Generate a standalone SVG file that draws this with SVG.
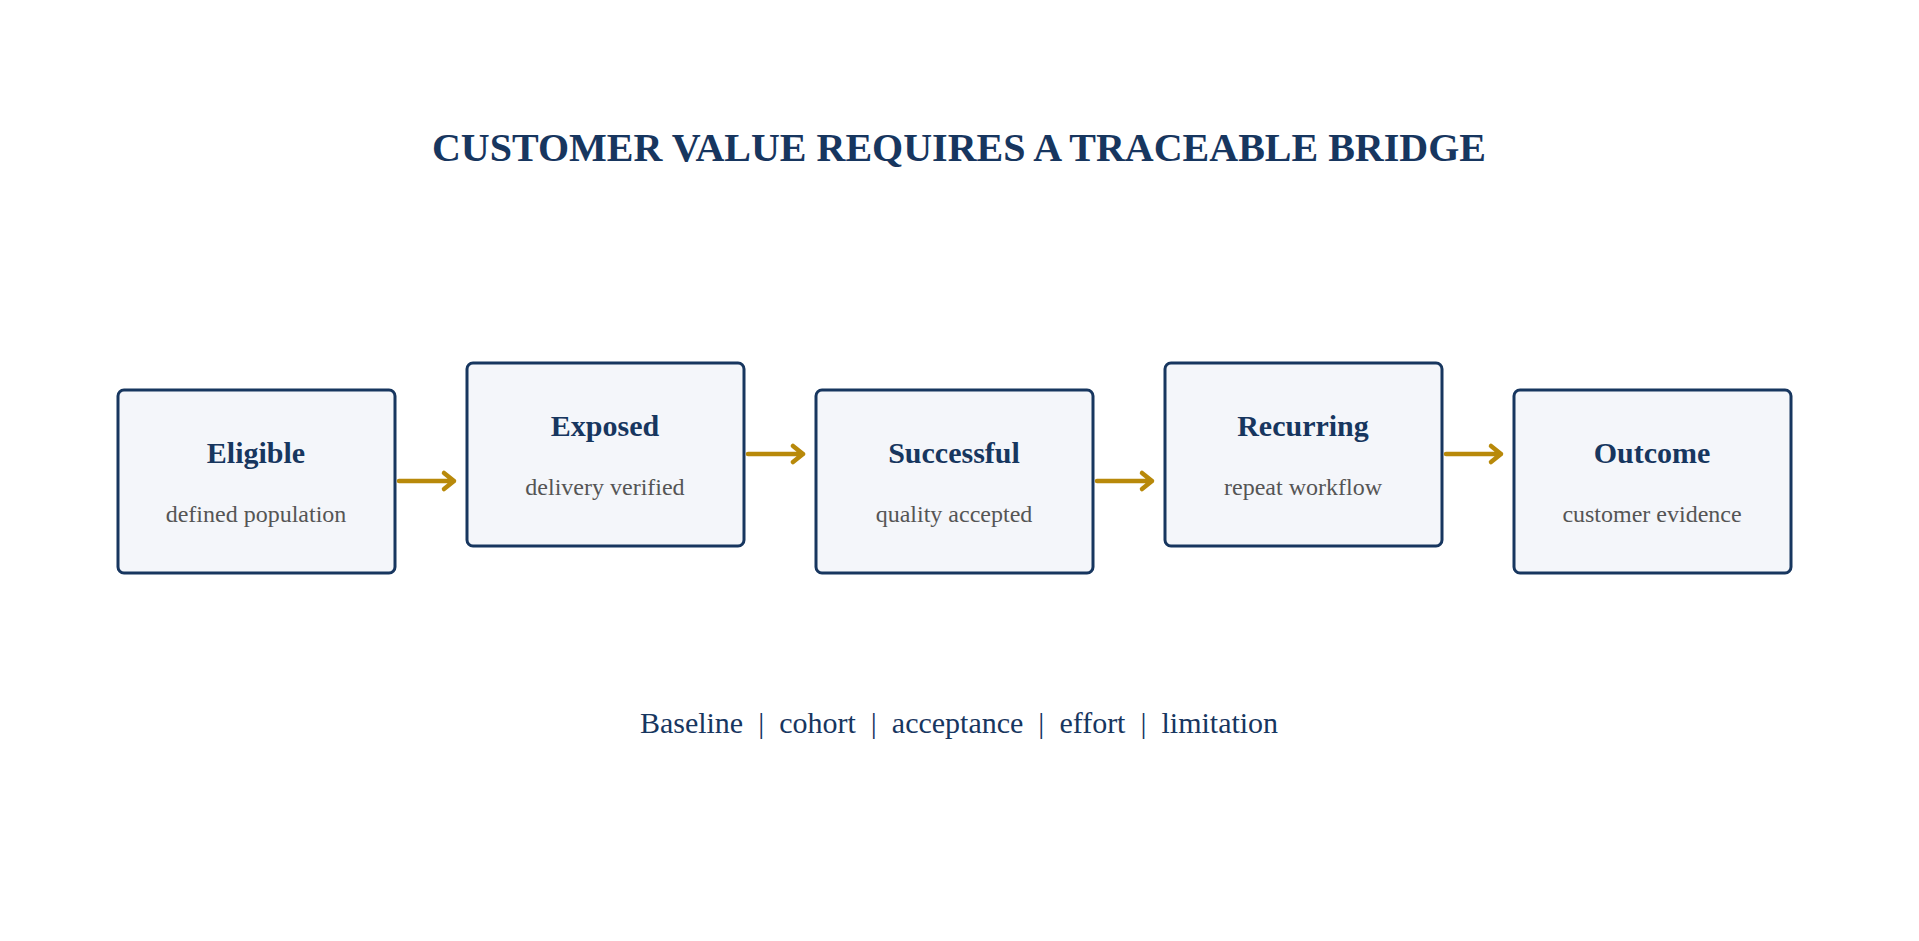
<svg xmlns="http://www.w3.org/2000/svg" width="1919" height="941" viewBox="0 0 1919 941">
<style>
.box{fill:#f4f6fa;stroke:#17365f;stroke-width:3}
.t{font-family:"Liberation Serif",serif;font-weight:bold;font-size:30px;fill:#17365f;text-anchor:middle}
.s{font-family:"Liberation Serif",serif;font-size:24px;fill:#555;text-anchor:middle}
.c{stroke:#b8890a;stroke-width:4.5;fill:none;stroke-linecap:round;stroke-linejoin:round}
</style>
<rect width="1919" height="941" fill="#fff"/>
<text x="959" y="161" font-family="Liberation Serif,serif" font-weight="bold" font-size="40" fill="#17365f" text-anchor="middle">CUSTOMER VALUE REQUIRES A TRACEABLE BRIDGE</text>
<g id="n1"><rect class="box" x="118" y="390" width="277" height="183" rx="6"/><text class="t" x="256" y="463">Eligible</text><text class="s" x="256" y="522">defined population</text></g>
<g id="n2"><rect class="box" x="467" y="363" width="277" height="183" rx="6"/><text class="t" x="605" y="436">Exposed</text><text class="s" x="605" y="495">delivery verified</text></g>
<g id="n3"><rect class="box" x="816" y="390" width="277" height="183" rx="6"/><text class="t" x="954" y="463">Successful</text><text class="s" x="954" y="522">quality accepted</text></g>
<g id="n4"><rect class="box" x="1165" y="363" width="277" height="183" rx="6"/><text class="t" x="1303" y="436">Recurring</text><text class="s" x="1303" y="495">repeat workflow</text></g>
<g id="n5"><rect class="box" x="1514" y="390" width="277" height="183" rx="6"/><text class="t" x="1652" y="463">Outcome</text><text class="s" x="1652" y="522">customer evidence</text></g>
<g id="connectors">
<path class="c" d="M399 481H454M444 473L454 481L444 489"/>
<path class="c" d="M748 454H803M793 446L803 454L793 462"/>
<path class="c" d="M1097 481H1152M1142 473L1152 481L1142 489"/>
<path class="c" d="M1446 454H1501M1491 446L1501 454L1491 462"/>
</g>
<text x="959" y="733" font-family="Liberation Serif,serif" font-size="30" fill="#17365f" text-anchor="middle" xml:space="preserve">Baseline  |  cohort  |  acceptance  |  effort  |  limitation</text>
</svg>
